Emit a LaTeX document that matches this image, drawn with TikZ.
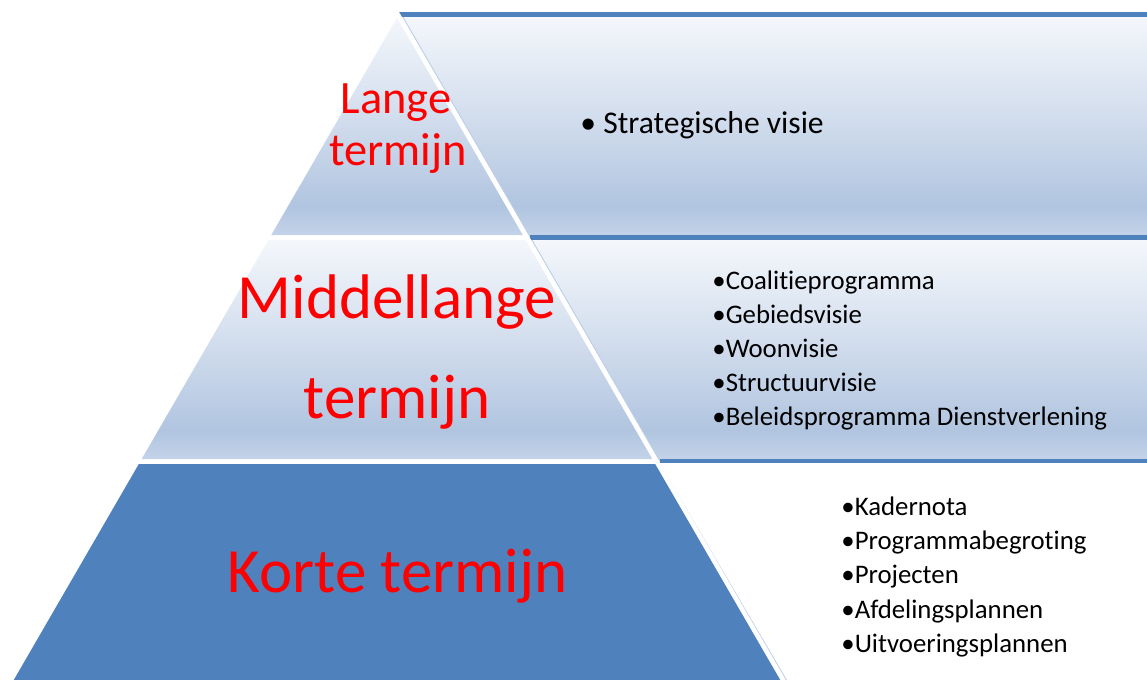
\documentclass[tikz,border=0pt]{standalone}
\usepackage{fontspec}
\setmainfont{Carlito}[RawFeature={-liga;-clig;-dlig}]
\usetikzlibrary{calc}
\definecolor{TierBlue}{RGB}{79,129,189}
\definecolor{TermRed}{RGB}{255,0,0}
\definecolor{GradTop}{RGB}{245,248,252}
\definecolor{GradMid}{RGB}{207,219,236}
\definecolor{GradLow}{RGB}{177,197,224}
\definecolor{GradBot}{RGB}{196,212,233}
\definecolor{EdgeClr}{RGB}{190,207,230}
\pgfdeclareverticalshading{bandgrad}{100bp}{color(0bp)=(GradBot); color(25bp)=(GradBot); color(32bp)=(GradLow); color(50bp)=(GradMid); color(75bp)=(GradTop); color(100bp)=(GradTop)}
\tikzset{
  tier/.style={draw=white,line width=2.25pt,line join=miter},
  bandline/.style={draw=TierBlue,line width=2.2pt},
  bandedge/.style={draw=EdgeClr,line width=0.5pt},
  bigterm/.style={text=TermRed,font=\fontsize{31.5}{38}\selectfont,anchor=base,inner sep=0pt},
  topterm/.style={text=TermRed,font=\fontsize{23.2}{28}\selectfont,anchor=base,inner sep=0pt},
  item/.style={font=\fontsize{13.4}{16}\selectfont,anchor=base west,inner sep=0pt}
}

\begin{document}
\begin{tikzpicture}[x=0.5pt,y=-0.5pt]
\useasboundingbox (0,0) rectangle (1147,680);
\clip (0,0) rectangle (1147,680);

% corners of the pyramid
\coordinate (A) at (397,13);
\coordinate (L1) at (267.1,237.5);
\coordinate (R1) at (526.9,237.5);
\coordinate (L2) at (137.5,461.5);
\coordinate (R2) at (656.5,461.5);
\coordinate (L3) at (-0.6,700);
\coordinate (R3) at (794.6,700);

% bands
\shade[shading=bandgrad] ($(A)+(3.5,0)$) -- (1160,13) -- (1160,237.5) -- ($(R1)+(3.5,0)$) -- cycle;
\shade[shading=bandgrad] ($(R1)+(3.5,0)$) -- (1160,237.5) -- (1160,461.5) -- ($(R2)+(3.5,0)$) -- cycle;
\draw[bandedge] ($(A)+(3.5,0)$) -- ($(R1)+(3.5,0)$);
\draw[bandedge] ($(R1)+(3.5,0)$) -- ($(R2)+(3.5,0)$);
\draw[bandedge] ($(R2)+(3.5,3)$) -- ($(R3)+(3.5,0)$);
\draw[bandline] (399,14.5) -- (1160,14.5);
\draw[bandline] (530.4,237.5) -- (1160,237.5);
\draw[bandline] (659.8,461) -- (1160,461);

% tiers
\draw[tier,shading=bandgrad] (A) -- (R1) -- (L1) -- cycle;
\draw[tier,shading=bandgrad] (L1) -- (R1) -- (R2) -- (L2) -- cycle;
\draw[tier,fill=TierBlue] (L2) -- (R2) -- (R3) -- (L3) -- cycle;

\node[topterm] (lange) at (396,113) {Lange};
\node[topterm] (langeb) at (398,165) {termijn};
\node[bigterm] (midden) at (397,318) {Middellange};
\node[bigterm] (middenb) at (397,418) {termijn};
\node[bigterm] (korte) at (397.5,592) {Korte termijn};

\node[item,font=\fontsize{15.8}{19}\selectfont] (visie) at (580,133) {• Strategische visie};
\foreach \txt [count=\i from 0] in {Coalitieprogramma,Gebiedsvisie,Woonvisie,Structuurvisie,Beleidsprogramma Dienstverlening}
  \node[item] (mid\i) at (712,{289+34*\i}) {•\txt};
\foreach \txt [count=\i from 0] in {Kadernota,Programmabegroting,Projecten,Afdelingsplannen,Uitvoeringsplannen}
  \node[item] (kort\i) at (841,{515+34.4*\i}) {•\txt};

\end{tikzpicture}
\end{document}
